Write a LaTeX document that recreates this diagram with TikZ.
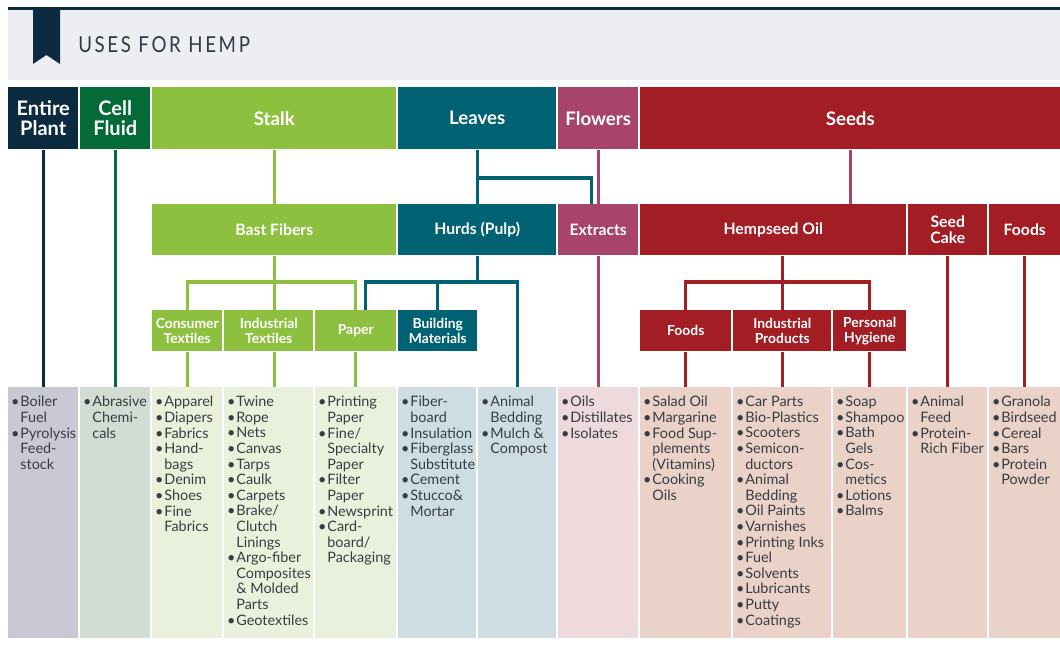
\documentclass[tikz,border=0pt]{standalone}
\usepackage{fontspec}
\setmainfont{Lato}
\newfontfamily\titlefont[LetterSpace=12,FakeStretch=0.85]{Lato}
\definecolor{navy}{RGB}{12,43,64}
\definecolor{dkgreen}{RGB}{4,106,56}
\definecolor{ltgreen}{RGB}{141,192,63}
\definecolor{leafteal}{RGB}{0,98,114}
\definecolor{flowmauve}{RGB}{168,68,106}
\definecolor{seedred}{RGB}{163,29,36}
\definecolor{band}{RGB}{236,238,242}
\definecolor{bgplant}{RGB}{200,201,212}
\definecolor{bgfluid}{RGB}{211,220,211}
\definecolor{bgstalk}{RGB}{233,241,220}
\definecolor{bgleaf}{RGB}{206,221,226}
\definecolor{bgflow}{RGB}{238,218,220}
\definecolor{bgseed}{RGB}{234,210,200}
\definecolor{listtext}{RGB}{55,60,66}
\definecolor{titletext}{RGB}{45,58,72}
\newcommand{\bul}{\makebox[7.6pt][l]{\hspace{0.6pt}\textbullet}}
\newcommand{\cont}{\hspace*{7.6pt}}

\begin{document}
\begin{tikzpicture}[x=0.75pt, y=-0.75pt,
    sz/.style 2 args={minimum width=#1*0.75pt, minimum height=#2*0.75pt},
    box/.style={anchor=north west, inner sep=0pt, align=center, text=white},
    top/.style={box, font=\bfseries\fontsize{14}{14.5}\selectfont},
    mid/.style={box, font=\bfseries\fontsize{11.8}{12.5}\selectfont},
    sub/.style={box, font=\bfseries\fontsize{10.4}{11.5}\selectfont},
    col/.style={anchor=north west, inner sep=0pt},
    lst/.style={anchor=north west, inner sep=0pt, align=left, text=listtext,
        font=\fontsize{10.8}{11.7}\selectfont},
    ln/.style={line width=2.3pt}]
    \useasboundingbox (0,0) rectangle (1060,645);
    \fill[white] (0,0) rectangle (1060,645);
    % title band
    \fill[band] (8,10) rectangle (1060,80);
    \draw[navy, line width=2.3pt] (8,8.5) -- (1060,8.5);
    \fill[navy] (33,10) -- (60,10) -- (60,64) -- (46.5,55) -- (33,64) -- cycle;
    \node[anchor=west, inner sep=0pt, text=titletext, font=\titlefont\fontsize{16.5}{18}\selectfont] (title) at (78,45) {USES FOR HEMP};
    % plant parts
    \node[top, sz={70}{62}, fill=navy, font=\bfseries\fontsize{15}{14.5}\selectfont] (plant) at (8,87) {Entire\\Plant};
    \node[top, sz={70}{62}, fill=dkgreen, font=\bfseries\fontsize{15}{14.5}\selectfont] (fluid) at (80,87) {Cell\\Fluid};
    \node[top, sz={244}{62}, fill=ltgreen] (stalk) at (152,87) {Stalk};
    \node[top, sz={158}{62}, fill=leafteal] (leaves) at (398,87) {Leaves};
    \node[top, sz={80}{62}, fill=flowmauve] (flowers) at (558,87) {Flowers};
    \node[top, sz={420}{62}, fill=seedred] (seeds) at (640,87) {Seeds};
    % second level
    \node[mid, sz={244}{51}, fill=ltgreen] (bast) at (152,204) {Bast Fibers};
    \node[mid, sz={158}{51}, fill=leafteal] (hurds) at (398,204) {Hurds (Pulp)};
    \node[mid, sz={80}{51}, fill=flowmauve] (extracts) at (558,204) {Extracts};
    \node[mid, sz={266}{51}, fill=seedred] (oil) at (640,204) {Hempseed Oil};
    \node[mid, sz={79}{51}, fill=seedred] (cake) at (908,204) {Seed\\Cake};
    \node[mid, sz={71}{51}, fill=seedred] (sfoods) at (989,204) {Foods};
    % third level
    \node[sub, sz={70}{41}, fill=ltgreen] (contex) at (152,310) {Consumer\\Textiles};
    \node[sub, sz={89}{41}, fill=ltgreen] (indtex) at (224,310) {Industrial\\Textiles};
    \node[sub, sz={81}{41}, fill=ltgreen] (paper) at (315,310) {Paper};
    \node[sub, sz={79}{41}, fill=leafteal] (build) at (398,310) {Building\\Materials};
    \node[sub, sz={91}{41}, fill=seedred] (ofoods) at (640,310) {Foods};
    \node[sub, sz={98}{41}, fill=seedred] (indprod) at (733,310) {Industrial\\Products};
    \node[sub, sz={73}{41}, fill=seedred] (hyg) at (833,310) {Personal\\Hygiene};
    % product columns
    \node[col, sz={70}{251}, fill=bgplant] (boiler) at (8,387) {};
    \node[col, sz={70}{251}, fill=bgfluid] (abras) at (80,387) {};
    \node[col, sz={70}{251}, fill=bgstalk] (appar) at (152,387) {};
    \node[col, sz={89}{251}, fill=bgstalk] (twine) at (224,387) {};
    \node[col, sz={81}{251}, fill=bgstalk] (print) at (315,387) {};
    \node[col, sz={78}{251}, fill=bgleaf] (fiber) at (398,387) {};
    \node[col, sz={78}{251}, fill=bgleaf] (bedd) at (478,387) {};
    \node[col, sz={80}{251}, fill=bgflow] (oils) at (558,387) {};
    \node[col, sz={91}{251}, fill=bgseed] (salad) at (640,387) {};
    \node[col, sz={98}{251}, fill=bgseed] (carp) at (733,387) {};
    \node[col, sz={73}{251}, fill=bgseed] (soap) at (833,387) {};
    \node[col, sz={79}{251}, fill=bgseed] (feed) at (908,387) {};
    \node[col, sz={71}{251}, fill=bgseed] (granola) at (989,387) {};
    % lists
    \node[lst] (boilertx) at ([shift={(2,9)}]boiler.north west) {\bul Boiler\\\cont Fuel\\\bul Pyrolysis\\\cont Feed-\\\cont stock};
    \node[lst] (abrastx) at ([shift={(2,9)}]abras.north west) {\bul Abrasive\\\cont Chemi-\\\cont cals};
    \node[lst] (appartx) at ([shift={(2,9)}]appar.north west) {\bul Apparel\\\bul Diapers\\\bul Fabrics\\\bul Hand-\\\cont bags\\\bul Denim\\\bul Shoes\\\bul Fine\\\cont Fabrics};
    \node[lst] (twinetx) at ([shift={(2,9)}]twine.north west) {\bul Twine\\\bul Rope\\\bul Nets\\\bul Canvas\\\bul Tarps\\\bul Caulk\\\bul Carpets\\\bul Brake/\\\cont Clutch\\\cont Linings\\\bul Argo-fiber\\\cont Composites\\\cont \& Molded\\\cont Parts\\\bul Geotextiles};
    \node[lst] (printtx) at ([shift={(2,9)}]print.north west) {\bul Printing\\\cont Paper\\\bul Fine/\\\cont Specialty\\\cont Paper\\\bul Filter\\\cont Paper\\\bul Newsprint\\\bul Card-\\\cont board/\\\cont Packaging};
    \node[lst] (fibertx) at ([shift={(2,9)}]fiber.north west) {\bul Fiber-\\\cont board\\\bul Insulation\\\bul Fiberglass\\\cont Substitute\\\bul Cement\\\bul Stucco\&\\\cont Mortar};
    \node[lst] (beddtx) at ([shift={(2,9)}]bedd.north west) {\bul Animal\\\cont Bedding\\\bul Mulch \&\\\cont Compost};
    \node[lst] (oilstx) at ([shift={(2,9)}]oils.north west) {\bul Oils\\\bul Distillates\\\bul Isolates};
    \node[lst] (saladtx) at ([shift={(2,9)}]salad.north west) {\bul Salad Oil\\\bul Margarine\\\bul Food Sup-\\\cont plements\\\cont (Vitamins)\\\bul Cooking\\\cont Oils};
    \node[lst] (carptx) at ([shift={(2,9)}]carp.north west) {\bul Car Parts\\\bul Bio-Plastics\\\bul Scooters\\\bul Semicon-\\\cont ductors\\\bul Animal\\\cont Bedding\\\bul Oil Paints\\\bul Varnishes\\\bul Printing Inks\\\bul Fuel\\\bul Solvents\\\bul Lubricants\\\bul Putty\\\bul Coatings};
    \node[lst] (soaptx) at ([shift={(2,9)}]soap.north west) {\bul Soap\\\bul Shampoo\\\bul Bath\\\cont Gels\\\bul Cos-\\\cont metics\\\bul Lotions\\\bul Balms};
    \node[lst] (feedtx) at ([shift={(2,9)}]feed.north west) {\bul Animal\\\cont Feed\\\bul Protein-\\\cont Rich Fiber};
    \node[lst] (granolatx) at ([shift={(2,9)}]granola.north west) {\bul Granola\\\bul Birdseed\\\bul Cereal\\\bul Bars\\\bul Protein\\\cont Powder};
    % entire plant, cell fluid
    \draw[ln, navy] (plant.south) -- (boiler.north);
    \draw[ln, dkgreen] (fluid.south) -- (abras.north);
    % stalk
    \coordinate (bbus) at (bast.south |- 0,282);
    \draw[ln, ltgreen] (stalk.south) -- (bast.north);
    \draw[ln, ltgreen] (bast.south) -- (bast.south |- indtex.north);
    \draw[ln, ltgreen] (contex.north) |- (bbus) -| (paper.north);
    \draw[ln, ltgreen] (contex.south) -- (appar.north);
    \draw[ln, ltgreen] (bast.south |- indtex.south) -- (bast.south |- twine.north);
    \draw[ln, ltgreen] (paper.south) -- (print.north);
    % leaves
    \coordinate (lbr) at (leaves.south |- 0,178);
    \coordinate (xtop) at ([xshift=-5.25pt]extracts.north);
    \coordinate (hbus) at (hurds.south |- 0,282);
    \coordinate (ptop) at ([xshift=7.5pt]paper.north);
    \draw[ln, leafteal] (leaves.south) -- (hurds.north);
    \draw[ln, leafteal] (lbr) -| (xtop);
    \draw[ln, leafteal] (hurds.south) -- (hbus);
    \draw[ln, leafteal] (ptop) |- (hbus) -| (bedd.north);
    \draw[ln, leafteal] (build.north) -- (build.north |- hbus);
    % flowers
    \draw[ln, flowmauve] (flowers.south) -- (extracts.north);
    \draw[ln, flowmauve] (extracts.south) -- (oils.north);
    % seeds
    \coordinate (obus) at (indprod.north |- 0,282);
    \draw[ln, flowmauve] (seeds.south) -- (seeds.south |- oil.north);
    \draw[ln, seedred] (indprod.north |- oil.south) -- (indprod.north);
    \draw[ln, seedred] (ofoods.north) |- (obus) -| (hyg.north);
    \draw[ln, seedred] (ofoods.south) -- (salad.north);
    \draw[ln, seedred] (indprod.south) -- (carp.north);
    \draw[ln, seedred] (hyg.south) -- (soap.north);
    \draw[ln, seedred] (cake.south) -- (feed.north);
    \draw[ln, seedred] (sfoods.south) -- (granola.north);
\end{tikzpicture}
\end{document}
